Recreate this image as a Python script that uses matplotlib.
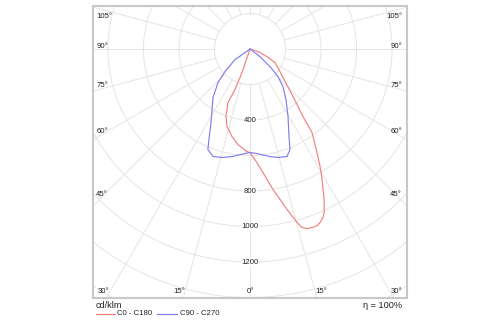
import numpy as np
import matplotlib
import matplotlib.pyplot as plt
from matplotlib.lines import Line2D
from matplotlib.patches import Circle

matplotlib.use("Agg")

plt.rcParams["font.family"] = ["Liberation Sans", "DejaVu Sans"]

# Luminous intensity curves (cd/klm), gamma measured from nadir.
# Negative gamma = C180 / C270 half, positive = C0 / C90 half, in drawing order.
C0_C180_GAMMA = [-19.5, -18.8, -20.3, -22.4, -19.6, -16.5, -11.6, -7.2, -1.7, 0.0,
                 3.5, 6.0, 9.3, 13.0, 15.2, 16.2, 17.6, 19.2, 20.8, 22.0, 23.4,
                 24.4, 26.2, 28.9, 30.8, 32.9, 36.6, 38.1, 42.2, 49.2, 54.7, 61.6,
                 66.2, 70.7, 75.0, 78.0]
C0_C180_I = [0, 140, 243, 326, 404, 455, 503, 542, 578, 583,
             641, 700, 802, 928, 1013, 1047, 1061, 1065, 1064, 1054, 1034,
             1011, 945, 840, 771, 695, 586, 484, 361, 246, 200, 160,
             105, 60, 20, 0]

C90_C270_GAMMA = [-60.0, -55.0, -48.0, -43.7, -37.3, -32.1, -27.9, -24.4, -22.7, -19.0,
                  -14.5, -9.5, -2.7, 0.0, 3.8, 10.5, 14.5, 19.0, 21.7, 24.0, 29.4,
                  35.5, 41.3, 45.5, 48.8, 53.1, 58.0]
C90_C270_I = [0, 103, 190, 261, 344, 402, 469, 560, 614, 640,
              631, 614, 589, 583, 590, 616, 631, 640, 609, 540, 436,
              349, 281, 221, 150, 70, 0]

RING_VALUES = [200, 400, 600, 800, 1000, 1200, 1400, 1600, 1800]
RING_LABELS = [400, 800, 1000, 1200]
SIDE_ANGLES = [45, 60, 75, 90, 105]
BOTTOM_ANGLES = [0, 15, 30]
EFFICIENCY = 100

GRID = "#e6e6e6"
TEXT = "#222222"
RED = "#f08080"
BLUE = "#7f7ff0"


def to_xy(gamma, inten):
    g = np.radians(gamma)
    r = np.asarray(inten, dtype=float)
    return r * np.sin(g), -r * np.cos(g)


fig = plt.figure(figsize=(5, 3.25), dpi=100)
ax = fig.add_axes([0.186, 0.083, 0.628, 0.898])
XMAX, YMIN, YMAX = 884, -1403, 242
ax.set_xlim(-XMAX, XMAX)
ax.set_ylim(YMIN, YMAX)
ax.set_xticks([])
ax.set_yticks([])
for sp in ax.spines.values():
    sp.set_color("#c8c8c8")
    sp.set_linewidth(1.5)

# polar grid
for r in RING_VALUES:
    ax.add_patch(Circle((0, 0), r, fill=False, ec=GRID, lw=0.75, zorder=1))
for a in range(0, 360, 15):
    x, y = to_xy([a, a], [RING_VALUES[0], 2500])
    ax.plot(x, y, color=GRID, lw=0.75, zorder=1)

# curves
x, y = to_xy(C0_C180_GAMMA, C0_C180_I)
ax.plot(x, y, color=RED, lw=0.85, zorder=3)
x, y = to_xy(C90_C270_GAMMA, C90_C270_I)
ax.plot(x, y, color=BLUE, lw=0.85, zorder=3)

# intensity labels on the nadir axis
for v in RING_LABELS:
    ax.text(0, -v, str(v), ha="center", va="center", fontsize=5.6, color=TEXT,
            zorder=4, bbox=dict(fc="white", ec="none", pad=0.6))

# angle labels along the sides
inset = 50
for a in SIDE_ANGLES:
    g = np.radians(a)
    y = -(XMAX - inset) * np.cos(g) / np.sin(g)
    dy = 2
    if y > YMAX - 56:
        y, dy = YMAX - 56, 0
    for ha, xpos in [("left", -XMAX + 18), ("right", XMAX - 28)]:
        ax.annotate(f"{a}°", (xpos, y), xytext=(0, dy), textcoords="offset points",
                    ha=ha, va="center", fontsize=5.6, color=TEXT, zorder=4)

# angle labels along the bottom
row = YMIN + 34
for a in BOTTOM_ANGLES:
    xr = -row * np.tan(np.radians(a))
    if a == 0:
        ax.text(0, row, f"{a}°", ha="center", va="center", fontsize=5.6, color=TEXT)
    else:
        ax.text(-xr, row, f"{a}°", ha="right", va="center", fontsize=5.6, color=TEXT)
        ax.text(xr, row, f"{a}°", ha="left", va="center", fontsize=5.6, color=TEXT)

# footer
fig.text(96 / 500, 1 - 305.5 / 325, "cd/klm", ha="left", va="center",
         fontsize=6.6, color=TEXT)
fig.text(402 / 500, 1 - 305.5 / 325, f"η = {EFFICIENCY}%", ha="right", va="center",
         fontsize=6.6, color=TEXT)
ly = 1 - 313.5 / 325
fig.add_artist(Line2D([96 / 500, 115 / 500], [ly, ly], color=RED, lw=0.9))
fig.text(117 / 500, ly, "C0 - C180", ha="left", va="center", fontsize=5.6, color=TEXT)
fig.add_artist(Line2D([157 / 500, 177 / 500], [ly, ly], color=BLUE, lw=0.9))
fig.text(180 / 500, ly, "C90 - C270", ha="left", va="center", fontsize=5.6, color=TEXT)

fig.savefig("out.png", dpi=100)
